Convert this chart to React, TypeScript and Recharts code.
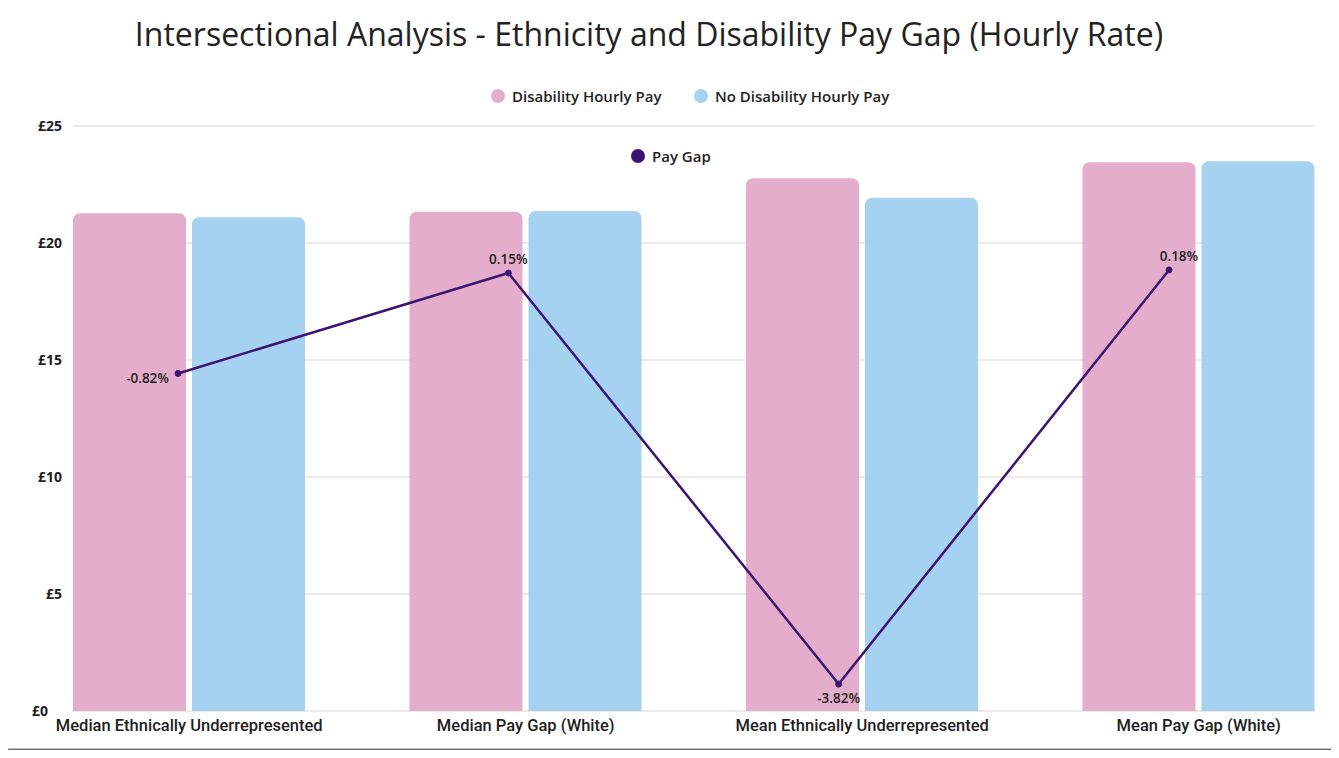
import React from "react";
import { ComposedChart, Bar, Line, XAxis, YAxis, CartesianGrid, LabelList } from "recharts";

const categories = [
  "Median Ethnically Underrepresented",
  "Median Pay Gap (White)",
  "Mean Ethnically Underrepresented",
  "Mean Pay Gap (White)",
];
const disabilityPay = [21.27, 21.34, 22.77, 23.45];
const noDisabilityPay = [21.1, 21.37, 21.93, 23.49];
const payGap = [-0.82, 0.15, -3.82, 0.18];
const gapLabelSide = ["left", "top", "bottom", "top"];
const poundTicks = [0, 5, 10, 15, 20, 25];

const PINK = "#E3ADCB";
const BLUE = "#A6D2F2";
const PURPLE = "#3D1470";
const TEXT = "#1e1e1e";
const FONT = "'Open Sans', sans-serif";

const data = categories.map((name, i) => ({
  name,
  disability: disabilityPay[i],
  noDisability: noDisabilityPay[i],
  gap: payGap[i],
}));

const PoundTick = (props: any) => {
  const { x, y, payload } = props;
  const isZero = payload.value === 0;
  return (
    <text
      x={isZero ? x - 17 : x - 3}
      y={y}
      dy={5}
      textAnchor="end"
      fontFamily={FONT}
      fontWeight={700}
      fontSize={14}
      fill={TEXT}
    >
      £{payload.value}
    </text>
  );
};

const CategoryTick = (props: any) => {
  const { x, y, payload } = props;
  return (
    <text x={x} y={y} dy={-18} textAnchor="middle" fontFamily="Roboto, sans-serif" fontWeight={500} fontSize={16.5} fill={TEXT}>
      {payload.value}
    </text>
  );
};

const GapLabel = (props: any) => {
  const { x, y, value, index } = props;
  const side = gapLabelSide[index];
  const text = `${Number(value).toFixed(2)}%`;
  const common = { fontFamily: FONT, fontWeight: 600, fontSize: 13.5, fill: TEXT };
  if (side === "left") {
    return <text x={x - 9} y={y + 10} textAnchor="end" {...common}>{text}</text>;
  }
  if (side === "bottom") {
    return <text x={x} y={y + 19} textAnchor="middle" {...common}>{text}</text>;
  }
  return <text x={x + (index === 3 ? 10 : 0)} y={y - 9} textAnchor="middle" {...common}>{text}</text>;
};

const LegendItem = ({ color, label, left, top }: { color: string; label: string; left: number; top: number }) => (
  <div style={{ position: "absolute", left, top, display: "flex", alignItems: "center", gap: 7 }}>
    <span style={{ width: 14, height: 14, borderRadius: 7, background: color, display: "inline-block" }} />
    <span style={{ fontFamily: FONT, fontWeight: 600, fontSize: 15, color: TEXT }}>{label}</span>
  </div>
);

export default function App() {
  return (
    <div style={{ position: "relative", width: 1339, height: 758, margin: -8, background: "#f2f2f2", overflow: "hidden" }}>
      <div
        style={{
          position: "absolute",
          left: 5,
          top: 3,
          width: 1326,
          height: 744,
          background: "#fff",
          border: "1px solid #bdbdbd",
          boxShadow: "0 0 3px rgba(0,0,0,0.45), 2px 4px 4px rgba(0,0,0,0.45)",
        }}
      />
      <div
        style={{
          position: "absolute",
          left: 0,
          top: 12,
          width: 1298,
          textAlign: "center",
          fontFamily: FONT,
          fontSize: 32,
          color: "#222",
        }}
      >
        Intersectional Analysis - Ethnicity and Disability Pay Gap (Hourly Rate)
      </div>
      <LegendItem color={PINK} label="Disability Hourly Pay" left={491} top={86} />
      <LegendItem color={BLUE} label="No Disability Hourly Pay" left={694} top={86} />
      <LegendItem color={PURPLE} label="Pay Gap" left={631} top={146} />
      <div style={{ position: "absolute", left: 0, top: 0 }}>
        <ComposedChart
          width={1339}
          height={758}
          data={data}
          margin={{ top: 126, right: 24, bottom: 17, left: 13 }}
          barGap={6}
          barCategoryGap={52}
        >
          <CartesianGrid xAxisId="pay" yAxisId="pay" vertical={false} stroke="#e3e3e3" strokeWidth={1.3} />
          <XAxis
            xAxisId="pay"
            dataKey="name"
            height={30}
            axisLine={false}
            tickLine={false}
            interval={0}
            padding={{ left: -52, right: -52 }}
            tick={<CategoryTick />}
          />
          <XAxis xAxisId="gap" dataKey="name" hide scale="point" padding={{ left: 105, right: 146 }} />
          <YAxis
            yAxisId="pay"
            domain={[0, 25]}
            ticks={poundTicks}
            width={60}
            axisLine={false}
            tickLine={false}
            tick={<PoundTick />}
          />
          <YAxis yAxisId="gap" orientation="right" hide domain={[-4.08, 1.57]} />
          <Bar xAxisId="pay" yAxisId="pay" dataKey="disability" fill={PINK} radius={[7, 7, 0, 0]} isAnimationActive={false} />
          <Bar xAxisId="pay" yAxisId="pay" dataKey="noDisability" fill={BLUE} radius={[7, 7, 0, 0]} isAnimationActive={false} />
          <Line
            xAxisId="gap"
            yAxisId="gap"
            dataKey="gap"
            stroke={PURPLE}
            strokeWidth={2.5}
            dot={{ r: 3, fill: PURPLE, stroke: PURPLE, strokeWidth: 1 }}
            isAnimationActive={false}
          >
            <LabelList dataKey="gap" content={<GapLabel />} />
          </Line>
        </ComposedChart>
      </div>
    </div>
  );
}
